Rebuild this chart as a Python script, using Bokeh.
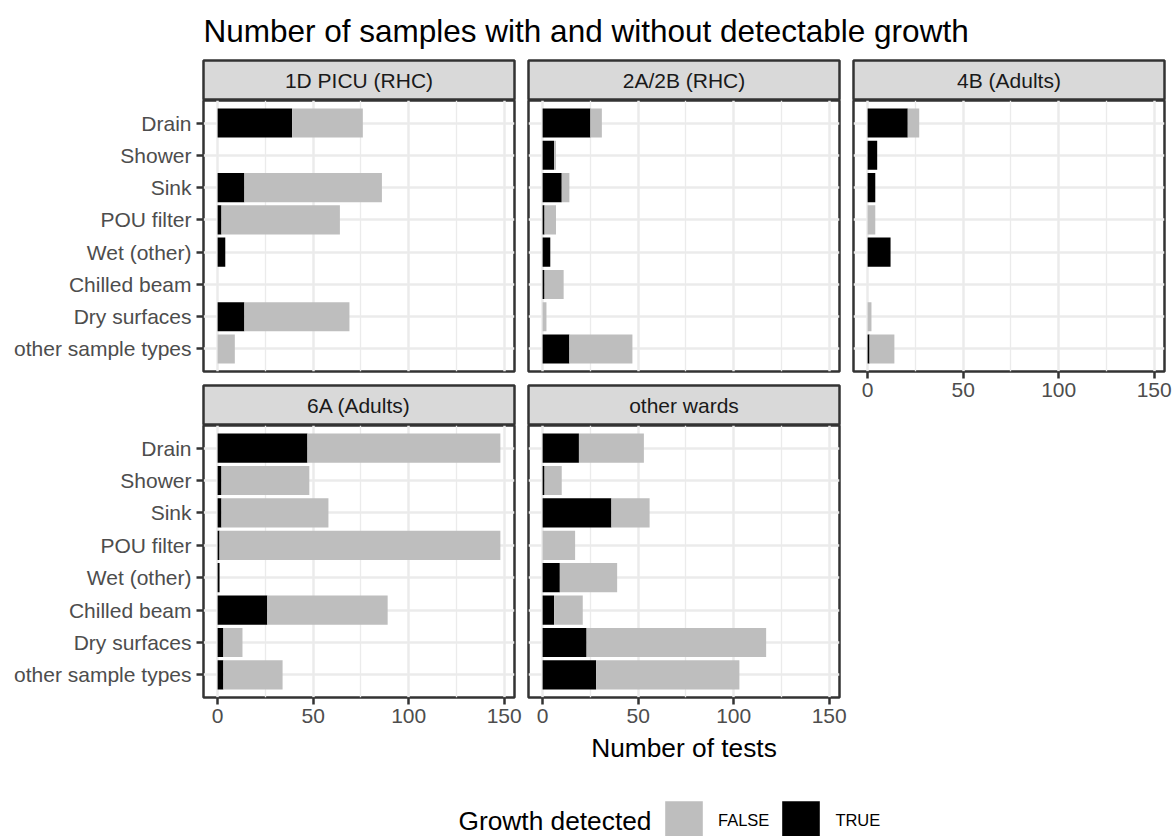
from bokeh.plotting import figure
from bokeh.models import (ColumnDataSource, FactorRange, Range1d, LinearAxis, CategoricalAxis,
                          FixedTicker, CategoricalTicker, Grid, Label, Legend, LegendItem)
from bokeh.layouts import row, column
from bokeh.embed import file_html
from bokeh.resources import INLINE
from bokeh.core.properties import value

# ---------------- data ----------------
chart_title = "Number of samples with and without detectable growth"
x_title = "Number of tests"
legend_title = "Growth detected"
legend_labels = ["FALSE", "TRUE"]
sample_types = ["Drain", "Shower", "Sink", "POU filter", "Wet (other)",
                "Chilled beam", "Dry surfaces", "other sample types"]
wards = ["1D PICU (RHC)", "2A/2B (RHC)", "4B (Adults)", "6A (Adults)", "other wards"]
x_ticks = [0, 50, 100, 150]
x_minor_ticks = [25, 75, 125]

# counts per sample type (same order as sample_types)
true_1d = [39, 0, 14, 2, 4, 0, 14, 0]
false_1d = [37, 0, 72, 62, 0, 0, 55, 9]
true_2a = [25, 6, 10, 1, 4, 1, 0, 14]
false_2a = [6, 1, 4, 6, 0, 10, 2, 33]
true_4b = [21, 5, 4, 0, 12, 0, 0, 1]
false_4b = [6, 0, 0, 4, 0, 0, 2, 13]
true_6a = [47, 2, 2, 1, 1, 26, 3, 3]
false_6a = [101, 46, 56, 147, 0, 63, 10, 31]
true_ow = [19, 1, 36, 0, 9, 6, 23, 28]
false_ow = [34, 9, 20, 17, 30, 15, 94, 75]

ward_true = [true_1d, true_2a, true_4b, true_6a, true_ow]
ward_false = [false_1d, false_2a, false_4b, false_6a, false_ow]

# ---------------- style ----------------
W, H = 1173, 836
FONT = "Liberation Sans"
TICK_PX = "21px"
LEG_PX = "16.5px"
AXT_PX = "26.3px"
TITLE_PX = "31.5px"
BORDER = "#333333"
GRID = "#EBEBEB"
STRIP_BG = "#D9D9D9"
TICK_TXT = "#4D4D4D"
STRIP_TXT = "#1A1A1A"
FILL_COLS = ["#000000", "#BEBEBE"]  # TRUE, FALSE (stack order)
LEGEND_COLS = ["#BEBEBE", "#000000"]  # FALSE, TRUE
LW = 2.5

FW = 311
H_HEAD = 59
S_H = 40
P_H1 = 271
P_H2 = 272
GAP = 13
AX_B = 36
COLS = [(203, 12), (2, 12), (2, 9)]

xmax = max(t + f for tl, fl in zip(ward_true, ward_false) for t, f in zip(tl, fl))
x_lo, x_hi = -0.05 * xmax, 1.05 * xmax


def base_fig(fw, fh, left, right, top, bottom, xr, yr):
    p = figure(frame_width=fw, frame_height=fh, x_range=xr, y_range=yr,
               x_axis_location=None, y_axis_location=None,
               toolbar_location=None, output_backend="svg",
               min_border_left=left, min_border_right=right,
               min_border_top=top, min_border_bottom=bottom)
    p.center = []
    p.background_fill_color = "white"
    p.border_fill_color = "white"
    p.outline_line_color = None
    return p


def strip(label, col, top):
    left, right = COLS[col]
    s = base_fig(FW, S_H, left, right, top, 0, Range1d(0, 1), Range1d(0, 1))
    s.background_fill_color = STRIP_BG
    s.outline_line_color = BORDER
    s.outline_line_width = LW
    s.add_layout(Label(x=0.5, y=0.5, text=label, text_align="center", text_baseline="middle",
                       text_font=FONT, text_font_size=TICK_PX, text_color=STRIP_TXT))
    return s


def style_axis(ax):
    ax.axis_line_color = None
    ax.major_tick_line_color = BORDER
    ax.major_tick_line_width = LW
    ax.major_tick_in = 0
    ax.major_tick_out = 7
    ax.minor_tick_line_color = None
    ax.major_label_text_font = FONT
    ax.major_label_text_font_size = TICK_PX
    ax.major_label_text_color = TICK_TXT
    ax.major_label_standoff = 5


def panel(i, col, fh, bottom, y_axis, x_axis):
    left, right = COLS[col]
    yr = FactorRange(factors=list(reversed(sample_types)), range_padding=0.2,
                     range_padding_units="absolute")
    p = base_fig(FW, fh, left, right, 0, bottom, Range1d(x_lo, x_hi), yr)
    p.outline_line_color = BORDER
    p.outline_line_width = LW
    p.add_layout(Grid(dimension=0, ticker=FixedTicker(ticks=x_ticks, minor_ticks=x_minor_ticks),
                      grid_line_color=GRID, grid_line_width=LW,
                      minor_grid_line_color=GRID, minor_grid_line_width=1.3))
    p.add_layout(Grid(dimension=1, ticker=CategoricalTicker(),
                      grid_line_color=GRID, grid_line_width=LW))
    src = ColumnDataSource(dict(cat=sample_types, t=ward_true[i], f=ward_false[i]))
    p.hbar_stack(["t", "f"], y="cat", height=0.9, source=src,
                 fill_color=FILL_COLS, line_color=None)
    if y_axis:
        ax = CategoricalAxis()
        style_axis(ax)
        p.add_layout(ax, "left")
    if x_axis:
        ax = LinearAxis(ticker=FixedTicker(ticks=x_ticks))
        style_axis(ax)
        ax.major_label_standoff = 4
        p.add_layout(ax, "below")
    return p


# header with title
header = base_fig(W, H_HEAD, 0, 0, 0, 0, Range1d(0, W), Range1d(0, H_HEAD))
header.add_layout(Label(x=203, y=H_HEAD - 30, text=chart_title, text_align="left",
                        text_baseline="middle", text_font=FONT, text_font_size=TITLE_PX,
                        text_color="black"))

s1 = strip(wards[0], 0, 1)
s2 = strip(wards[1], 1, 1)
s3 = strip(wards[2], 2, 1)
p1 = panel(0, 0, P_H1, GAP, True, False)
p2 = panel(1, 1, P_H1, GAP, False, False)
p3 = panel(2, 2, P_H1, AX_B, False, True)
s4 = strip(wards[3], 0, 1)
s5 = strip(wards[4], 1, 1)
p4 = panel(3, 0, P_H2, AX_B, True, True)
p5 = panel(4, 1, P_H2, AX_B, False, True)

top_used = H_HEAD + (1 + S_H) + (P_H1 + GAP) + (1 + S_H) + (P_H2 + AX_B)
H_FOOT = H - top_used

footer = base_fig(W, H_FOOT, 0, 0, 0, 0, Range1d(0, W), Range1d(0, H_FOOT))
# page y -> footer y (from page bottom)
footer.add_layout(Label(x=683.5, y=H - 747, text=x_title, text_align="center",
                        text_baseline="middle", text_font=FONT, text_font_size=AXT_PX,
                        text_color="black"))
footer.add_layout(Label(x=458, y=H - 820, text=legend_title, text_align="left",
                        text_baseline="middle", text_font=FONT, text_font_size=AXT_PX,
                        text_color="black"))
nan = float("nan")
items = []
for lab, colr in zip(legend_labels, LEGEND_COLS):
    key_src = ColumnDataSource(dict(l=[nan], r=[nan], t=[nan], b=[nan]))
    rr = footer.quad(left="l", right="r", top="t", bottom="b", source=key_src,
                     fill_color=colr, line_color=None)
    items.append(LegendItem(label=lab, renderers=[rr]))
leg = Legend(items=items, orientation="horizontal", location=(660, -8),
             glyph_width=47, glyph_height=48, label_standoff=11, spacing=8,
             padding=0, margin=0, border_line_color=None, background_fill_alpha=0,
             label_text_font=FONT, label_text_font_size=LEG_PX, label_text_color="black",
             label_text_baseline="middle")
footer.add_layout(leg, "center")

left_block = column(row(s1, s2, spacing=0), row(p1, p2, spacing=0),
                    row(s4, s5, spacing=0), row(p4, p5, spacing=0), spacing=0)
right_block = column(s3, p3, spacing=0)
layout = column(header, row(left_block, right_block, spacing=0), footer, spacing=0)

open("out.html", "w").write(file_html(layout, INLINE))
